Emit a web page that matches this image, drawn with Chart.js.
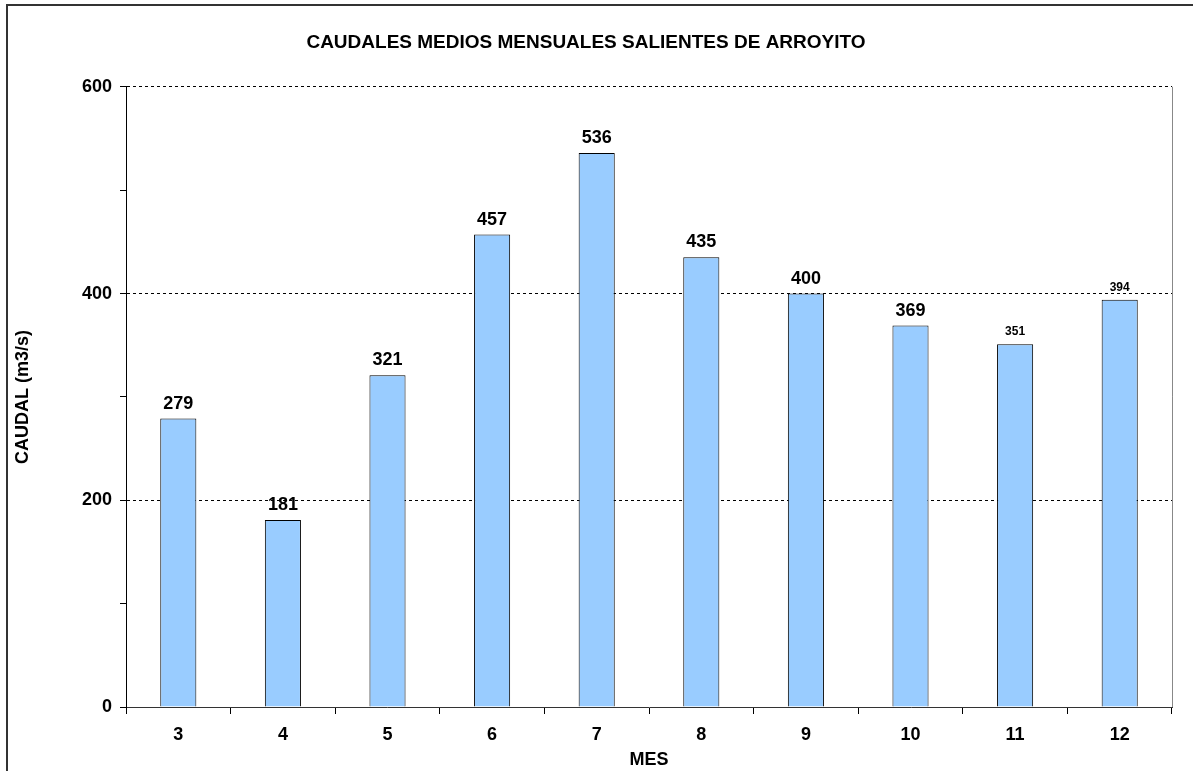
<!DOCTYPE html>
<html>
<head>
<meta charset="utf-8">
<script src="https://cdn.jsdelivr.net/npm/chart.js@4"></script>
<style>
  html, body { margin: 0; padding: 0; background: #fff; }
  #wrap { width: 1193px; height: 771px; }
</style>
</head>
<body>
<div id="wrap"><canvas id="graficoCaudal" width="1193" height="771"></canvas></div>
<script>
// datos
const meses = ['3', '4', '5', '6', '7', '8', '9', '10', '11', '12'];
const caudales = [279, 181, 321, 457, 536, 435, 400, 369, 351, 394];
const tamanoEtiqueta = [18, 18, 18, 18, 18, 18, 18, 18, 12, 12];

const fuente = '"Liberation Sans", Arial, sans-serif';

// etiquetas encima de las barras + marco
const etiquetasBarras = {
    id: 'etiquetasBarras',
    afterDatasetsDraw(chart) {
        const ctx = chart.ctx;
        const meta = chart.getDatasetMeta(0);
        ctx.save();
        ctx.fillStyle = '#000';
        ctx.textAlign = 'center';
        ctx.textBaseline = 'bottom';
        meta.data.forEach((bar, i) => {
            ctx.font = 'bold ' + tamanoEtiqueta[i] + 'px ' + fuente;
            ctx.fillText(String(caudales[i]), bar.x, bar.y - 6);
        });
        ctx.restore();
    },
    afterDraw(chart) {
        const ctx = chart.ctx;
        const a = chart.chartArea;
        ctx.save();
        // borde derecho del area
        ctx.strokeStyle = '#888';
        ctx.lineWidth = 1;
        ctx.beginPath();
        ctx.moveTo(a.right + 0.5, a.top);
        ctx.lineTo(a.right + 0.5, a.bottom);
        ctx.stroke();
        // marco exterior
        ctx.strokeStyle = '#333';
        ctx.lineWidth = 2;
        ctx.beginPath();
        ctx.moveTo(7, 771);
        ctx.lineTo(7, 5);
        ctx.lineTo(1193, 5);
        ctx.stroke();
        ctx.restore();
    }
};

const ctxCaudal = document.getElementById('graficoCaudal').getContext('2d');
const graficoCaudal = new Chart(ctxCaudal, {
    type: 'bar',
    data: {
        labels: meses,
        datasets: [{
            label: 'Caudal',
            data: caudales,
            backgroundColor: '#99CCFF',
            borderColor: '#000',
            borderWidth: 1,
            barPercentage: 0.345,
            categoryPercentage: 1
        }]
    },
    options: {
        responsive: false,
        animation: false,
        layout: { padding: { left: 0, right: 21, top: 0, bottom: 0 } },
        plugins: {
            legend: { display: false },
            tooltip: { enabled: false },
            title: {
                display: true,
                text: 'CAUDALES MEDIOS MENSUALES SALIENTES DE ARROYITO',
                color: '#000',
                font: { family: fuente, size: 19, weight: 'bold' },
                padding: { top: 31, bottom: 33 }
            }
        },
        scales: {
            x: {
                offset: true,
                afterFit(scale) { scale.height = 64; },
                grid: {
                    offset: true,
                    drawOnChartArea: false,
                    drawTicks: true,
                    tickLength: 7,
                    tickColor: '#000'
                },
                border: { color: '#333', width: 1 },
                ticks: {
                    color: '#000',
                    padding: 10,
                    font: { family: fuente, size: 18, weight: 'bold' }
                },
                title: {
                    display: true,
                    text: 'MES',
                    color: '#000',
                    font: { family: fuente, size: 18, weight: 'bold' },
                    padding: { top: 0, bottom: 0 }
                }
            },
            y: {
                min: 0,
                max: 600,
                afterFit(scale) { scale.width = 126; },
                grid: {
                    color: (c) => (c.tick && c.tick.value > 0 && c.tick.value % 200 === 0) ? '#000' : 'rgba(0,0,0,0)',
                    lineWidth: 1,
                    drawTicks: true,
                    tickLength: 6,
                    tickColor: '#000'
                },
                border: { color: '#000', width: 1, dash: [3, 3] },
                ticks: {
                    stepSize: 100,
                    color: '#000',
                    padding: 8,
                    font: { family: fuente, size: 18, weight: 'bold' },
                    callback: (v) => (v % 200 === 0 ? v : '')
                },
                title: {
                    display: true,
                    text: 'CAUDAL (m3/s)',
                    color: '#000',
                    font: { family: fuente, size: 18, weight: 'bold' },
                    padding: { top: 12, bottom: 0 }
                }
            }
        }
    },
    plugins: [etiquetasBarras]
});
</script>
</body>
</html>
